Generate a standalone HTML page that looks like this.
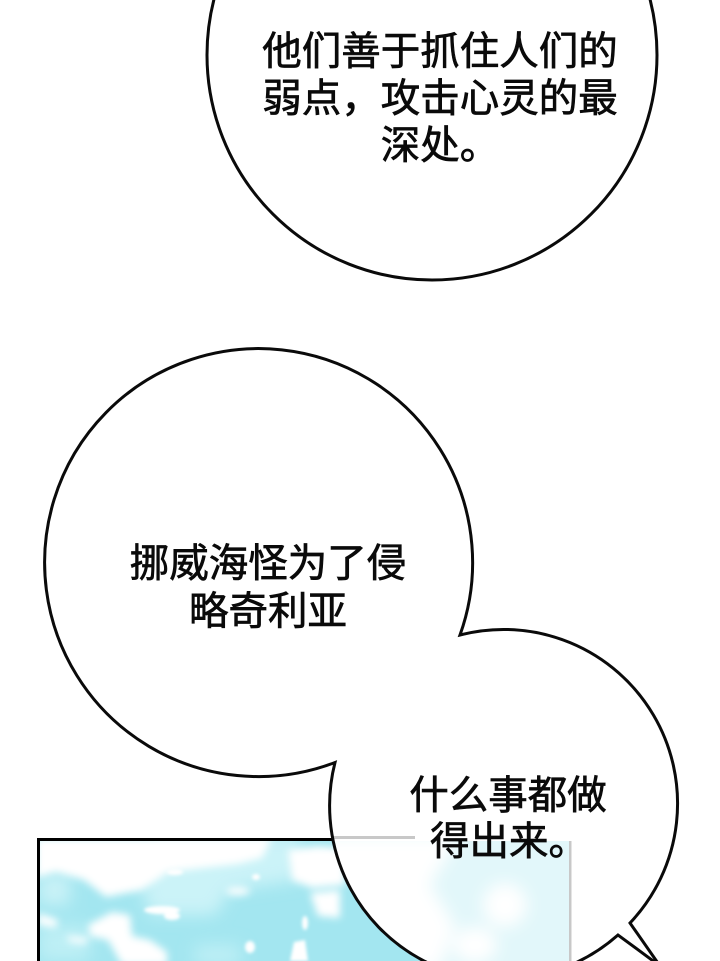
<!DOCTYPE html>
<html lang="zh-CN">
<head>
<meta charset="utf-8">
<style>
html,body{margin:0;padding:0;background:#fff;width:720px;height:961px;overflow:hidden}
svg{display:block}
text{font-family:"Liberation Sans","Noto Sans CJK SC","WenQuanYi Zen Hei",sans-serif;font-size:39.5px;fill:#0a0a0a;stroke:#0a0a0a;stroke-width:.7px;text-anchor:middle}
</style>
</head>
<body>
<svg width="720" height="961" viewBox="0 0 720 961" xmlns="http://www.w3.org/2000/svg">
<defs>
<filter id="b1" x="-30%" y="-30%" width="160%" height="160%"><feGaussianBlur stdDeviation="8"/></filter>
<filter id="b2" x="-30%" y="-30%" width="160%" height="160%"><feGaussianBlur stdDeviation="4"/></filter>
<filter id="b3" x="-30%" y="-30%" width="160%" height="160%"><feGaussianBlur stdDeviation="1.500"/></filter>
<clipPath id="panel"><rect x="39" y="840" width="531" height="121"/></clipPath>
<clipPath id="inner"><path d="M460,635 A174,174 0 0 1 630,923 L660,966 L618,935 A175,175 0 0 1 424,961 A175,175 0 0 1 335,762.500 A214,214 0 1 1 460,635 Z"/></clipPath>
</defs>

<!-- sky panel -->
<rect x="39" y="840" width="531" height="121" fill="#a3e6f0"/>
<g clip-path="url(#panel)">
  <g filter="url(#b1)">
    <path d="M160,835H300V880L230,890L215,915H150L140,880Z" fill="#cbf3f8"/>
    <path d="M39,925H90V961H39Z" fill="#bdeff5"/>
    <path d="M195,945H240V965H195Z" fill="#bdeff5"/>
    <path d="M39,875H70V905H39Z" fill="#c9f2f7"/>
  </g>
  <g filter="url(#b2)" fill="#fff">
    <path d="M36,838H272L262,858L238,864L168,872L142,890L106,897L84,880L56,872L36,878Z"/>
    <path d="M288,850L318,846L345,848V885L312,888L292,880Z"/>
    <path d="M310,893L340,890V918L318,916Z"/>
    <ellipse cx="238" cy="891" rx="12" ry="4"/>
    <path d="M88,925L112,912L130,915L132,936L150,940L167,952V965H122L108,940L90,936Z"/>
    <path d="M38,913L58,920L56,928L38,925Z"/>
    <path d="M66,936L88,938L86,944L70,942Z"/>
  </g>
  <g filter="url(#b3)" fill="#fff">
    <ellipse cx="162" cy="910" rx="18" ry="4"/>
    <ellipse cx="172" cy="916" rx="8" ry="4"/>
    <ellipse cx="250" cy="947" rx="5" ry="6"/>
    <ellipse cx="305" cy="923" rx="3" ry="7"/>
    <path d="M294,942L305,940L308,961H290Z"/>
    <ellipse cx="175" cy="872" rx="8" ry="3"/>
    <ellipse cx="256" cy="877" rx="4" ry="3"/>
  </g>
</g>
<!-- panel border -->
<path d="M38.500 961V839.500H336" fill="none" stroke="#000" stroke-width="3"/>

<!-- top bubble -->
<circle cx="432" cy="55" r="225" fill="#fff" stroke="#0a0a0a" stroke-width="3"/>

<!-- lower speech bubble fill -->
<path d="M460,635 A174,174 0 0 1 630,923 L660,966 L618,935 A175,175 0 0 1 424,961 A175,175 0 0 1 335,762.500 A214,214 0 1 1 460,635 Z" fill="#fff"/>

<!-- pale panel seen through the bubble -->
<g clip-path="url(#inner)">
  <rect x="330" y="841" width="240" height="120" fill="#e2f7fa"/>
  <g filter="url(#b1)" fill="#fff">
    <path d="M320,835H460L430,885L455,925L440,970H330Z"/>
    <ellipse cx="505" cy="905" rx="22" ry="22"/>
    <ellipse cx="475" cy="945" rx="22" ry="18"/>
  </g>
  <path d="M333,837.500H415" stroke="#c8c8c8" stroke-width="3" fill="none"/>
  <rect x="569" y="841" width="2.500" height="120" fill="#c8c8c8"/>
</g>

<!-- bubble outline -->
<path d="M460,635 A174,174 0 0 1 630,923 L660,966 L618,935 A175,175 0 0 1 424,961 A175,175 0 0 1 335,762.500 A214,214 0 1 1 460,635 Z" fill="none" stroke="#0a0a0a" stroke-width="3" stroke-linejoin="miter"/>

<!-- text -->
<text x="440" y="65">他们善于抓住人们的</text>
<text x="440" y="112">弱点，攻击心灵的最</text>
<text x="440" y="159">深处。</text>

<text x="268" y="577">挪威海怪为了侵</text>
<text x="268" y="625">略奇利亚</text>

<text x="508" y="809">什么事都做</text>
<text x="509" y="855">得出来。</text>
</svg>
</body>
</html>
